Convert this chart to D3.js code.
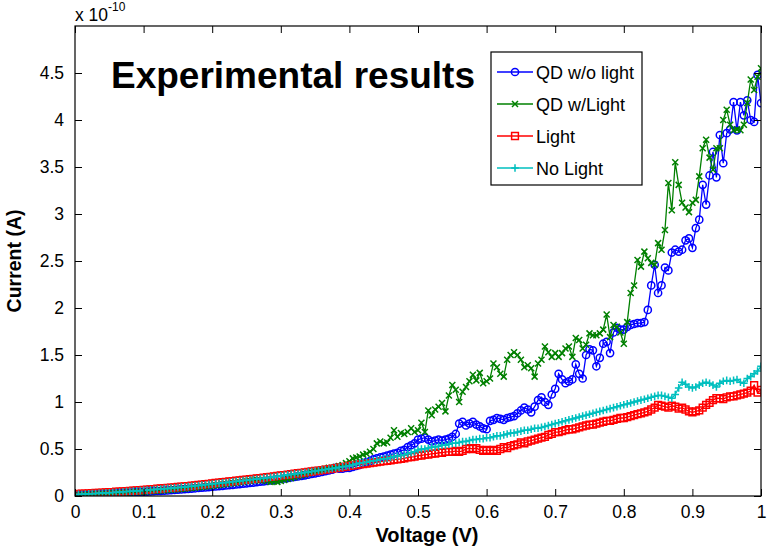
<!DOCTYPE html>
<html>
<head>
<meta charset="utf-8">
<script src="https://cdn.jsdelivr.net/npm/d3@7"></script>
<style>
  html, body { margin: 0; padding: 0; background: #fff; }
  svg { display: block; }
  text { font-family: "Liberation Sans", Arial, sans-serif; fill: #000; }
</style>
</head>
<body>
<svg id="chart" width="768" height="547"></svg>
<script>
// ---------------- DATA (current in units of 1e-10 A) ----------------
const voltageStart = 0;
const voltageStep = 0.005;

const seriesNames = ["QD w/o light", "QD w/Light", "Light", "No Light"];

const qdNoLight = [
  0.005,0.007,0.009,0.011,0.013,0.015,0.017,0.019,0.021,0.023,0.025,0.027,0.029,0.031,0.033,0.035,0.037,0.039,0.041,0.043,0.045,
  0.047,0.049,0.051,0.053,0.055,0.057,0.059,0.061,0.064,0.067,0.07,0.073,0.076,0.079,0.082,0.085,0.088,0.091,0.095,0.098,
  0.101,0.105,0.108,0.112,0.115,0.119,0.123,0.127,0.131,0.135,0.139,0.143,0.147,0.152,0.156,0.161,0.166,0.171,0.176,0.181,
  0.186,0.191,0.197,0.202,0.208,0.214,0.22,0.227,0.234,0.241,0.248,0.256,0.264,0.272,0.281,0.3,0.29,0.29,0.3,0.3,
  0.31,0.32,0.33,0.35,0.36,0.37,0.39,0.4,0.41,0.42,0.43,0.44,0.45,0.46,0.48,0.49,0.52,0.54,0.56,0.6,
  0.61,0.62,0.6,0.58,0.59,0.6,0.59,0.6,0.61,0.63,0.66,0.77,0.79,0.75,0.77,0.79,0.76,0.74,0.72,0.71,
  0.8,0.81,0.83,0.82,0.81,0.83,0.84,0.85,0.88,0.91,0.94,0.92,0.89,0.95,1.02,1.05,1.0,0.97,1.08,1.14,
  1.3,1.24,1.2,1.22,1.24,1.4,1.3,1.25,1.5,1.56,1.55,1.38,1.47,1.62,1.64,1.52,1.74,1.79,1.77,1.77,
  1.8,1.82,1.83,1.84,1.84,1.85,1.98,2.24,2.46,2.16,2.24,2.43,2.4,2.59,2.62,2.6,2.62,2.72,2.74,2.64,
  2.85,2.94,3.31,3.1,3.41,3.66,3.39,3.84,3.54,3.86,3.9,4.19,3.89,4.19,4.05,4.21,4.0,3.98,4.48,4.18
];

const qdLight = [
  0.005,0.007,0.009,0.011,0.013,0.015,0.017,0.019,0.021,0.023,0.025,0.027,0.029,0.031,0.033,0.035,0.037,0.039,0.041,0.043,0.046,
  0.048,0.05,0.053,0.055,0.058,0.06,0.063,0.066,0.069,0.072,0.075,0.078,0.082,0.085,0.089,0.093,0.097,0.101,0.105,0.11,
  0.114,0.118,0.123,0.127,0.132,0.137,0.141,0.146,0.151,0.156,0.161,0.166,0.17,0.165,0.17,0.16,0.15,0.155,0.15,0.16,
  0.17,0.18,0.19,0.2,0.21,0.22,0.23,0.24,0.25,0.26,0.27,0.28,0.29,0.3,0.3,0.31,0.32,0.33,0.35,0.37,
  0.4,0.41,0.42,0.44,0.45,0.47,0.5,0.56,0.58,0.56,0.57,0.62,0.7,0.63,0.67,0.66,0.68,0.72,0.68,0.7,
  0.78,0.68,0.91,0.86,0.92,0.95,0.99,0.9,1.07,1.18,1.13,1.0,1.11,1.16,1.22,1.29,1.23,1.31,1.2,1.22,
  1.25,1.41,1.37,1.3,1.27,1.45,1.5,1.53,1.5,1.45,1.37,1.39,1.36,1.27,1.41,1.45,1.59,1.53,1.48,1.52,
  1.48,1.52,1.57,1.59,1.48,1.68,1.66,1.57,1.61,1.73,1.71,1.71,1.73,1.77,1.93,1.69,1.82,1.8,1.74,1.62,
  1.85,2.16,2.24,2.51,2.44,2.6,2.53,2.48,2.46,2.69,2.62,2.83,3.33,3.04,3.55,3.31,3.12,3.07,3.02,3.12,
  3.15,3.4,3.7,3.79,3.6,3.47,3.7,3.7,4.0,4.11,3.95,3.89,3.9,3.89,3.95,4.18,4.43,4.32,4.46,4.55
];

const lightOnly = [
  0.02,0.022,0.024,0.026,0.028,0.03,0.032,0.034,0.036,0.038,0.04,0.042,0.045,0.047,0.05,0.052,0.055,0.057,0.06,0.062,0.065,
  0.068,0.071,0.074,0.077,0.08,0.083,0.086,0.089,0.092,0.096,0.099,0.103,0.106,0.11,0.114,0.118,0.122,0.126,0.13,0.135,
  0.139,0.143,0.147,0.151,0.155,0.159,0.163,0.167,0.171,0.175,0.179,0.183,0.187,0.191,0.195,0.2,0.204,0.209,0.214,0.219,
  0.223,0.228,0.232,0.237,0.242,0.246,0.251,0.256,0.261,0.266,0.271,0.276,0.281,0.286,0.291,0.297,0.302,0.308,0.313,0.32,
  0.325,0.33,0.336,0.34,0.345,0.35,0.356,0.36,0.366,0.37,0.375,0.38,0.386,0.39,0.395,0.4,0.41,0.415,0.42,0.43,
  0.43,0.44,0.44,0.45,0.45,0.46,0.46,0.47,0.47,0.47,0.48,0.47,0.48,0.5,0.51,0.5,0.51,0.49,0.48,0.49,
  0.48,0.49,0.48,0.5,0.52,0.51,0.53,0.54,0.55,0.57,0.56,0.58,0.59,0.6,0.61,0.62,0.63,0.65,0.66,0.68,
  0.68,0.69,0.7,0.71,0.71,0.72,0.73,0.74,0.75,0.76,0.76,0.77,0.78,0.79,0.8,0.8,0.81,0.82,0.83,0.83,
  0.84,0.85,0.86,0.87,0.88,0.89,0.9,0.92,0.94,0.97,0.96,0.95,0.94,0.96,0.95,0.93,0.94,0.92,0.9,0.89,
  0.9,0.91,0.94,0.97,0.99,1.02,1.04,1.04,1.03,1.05,1.06,1.06,1.07,1.08,1.09,1.1,1.12,1.18,1.1,1.13
];

const noLight = [
  0.015,0.017,0.019,0.021,0.023,0.025,0.027,0.029,0.031,0.033,0.035,0.037,0.04,0.042,0.045,0.047,0.05,0.052,0.055,0.057,0.06,
  0.063,0.066,0.069,0.072,0.075,0.078,0.081,0.084,0.087,0.09,0.094,0.097,0.101,0.104,0.108,0.112,0.116,0.12,0.124,0.128,
  0.132,0.136,0.14,0.144,0.148,0.152,0.156,0.16,0.164,0.168,0.172,0.177,0.181,0.186,0.19,0.195,0.2,0.205,0.21,0.215,
  0.22,0.225,0.23,0.235,0.24,0.245,0.25,0.255,0.26,0.266,0.271,0.277,0.282,0.288,0.293,0.299,0.305,0.31,0.316,0.322,
  0.33,0.34,0.35,0.355,0.36,0.37,0.375,0.38,0.39,0.395,0.4,0.41,0.42,0.425,0.43,0.44,0.45,0.46,0.47,0.49,
  0.5,0.5,0.51,0.52,0.52,0.53,0.54,0.54,0.55,0.56,0.56,0.57,0.58,0.58,0.59,0.6,0.6,0.61,0.61,0.62,
  0.62,0.63,0.64,0.64,0.65,0.66,0.67,0.67,0.68,0.69,0.7,0.7,0.71,0.72,0.72,0.73,0.74,0.75,0.76,0.77,
  0.78,0.79,0.8,0.81,0.82,0.83,0.84,0.85,0.86,0.87,0.88,0.89,0.9,0.91,0.92,0.93,0.94,0.95,0.96,0.97,
  0.98,0.99,1.0,1.01,1.02,1.03,1.04,1.05,1.06,1.07,1.07,1.06,1.05,1.04,1.08,1.15,1.21,1.19,1.16,1.15,
  1.16,1.18,1.2,1.21,1.2,1.18,1.16,1.2,1.22,1.23,1.22,1.23,1.24,1.21,1.2,1.25,1.27,1.3,1.33,1.38
];

const xTicks = [0, 0.1, 0.2, 0.3, 0.4, 0.5, 0.6, 0.7, 0.8, 0.9, 1];
const yTicks = [0, 0.5, 1, 1.5, 2, 2.5, 3, 3.5, 4, 4.5];

// ---------------- LAYOUT ----------------
const svg = d3.select("#chart");
const L = 75, R = 761, T = 26, B = 496;
const font = '"Liberation Sans", Arial, sans-serif';

const x = d3.scaleLinear().domain([0, 1]).range([L, R]);
const y = d3.scaleLinear().domain([0, 5]).range([B, T]);

const series = [
  { name: seriesNames[0], values: qdNoLight, color: "#0000ff", marker: "circle" },
  { name: seriesNames[1], values: qdLight,   color: "#008000", marker: "x" },
  { name: seriesNames[2], values: lightOnly, color: "#ff0000", marker: "square" },
  { name: seriesNames[3], values: noLight,   color: "#00bfbf", marker: "plus" }
];

function markerPath(type) {
  switch (type) {
    case "circle": {
      const r = 3.6;
      return `M${-r},0A${r},${r} 0 1,0 ${r},0A${r},${r} 0 1,0 ${-r},0Z`;
    }
    case "square": { const s = 3.4; return `M${-s},${-s}H${s}V${s}H${-s}Z`; }
    case "x": { const s = 3; return `M${-s},${-s}L${s},${s}M${-s},${s}L${s},${-s}`; }
    case "plus": { const s = 3.8; return `M${-s},0H${s}M0,${-s}V${s}`; }
  }
}

svg.append("rect").attr("x", 0).attr("y", 0).attr("width", 768).attr("height", 547).attr("fill", "#fff");

svg.append("defs").append("clipPath").attr("id", "clip")
  .append("rect").attr("x", L).attr("y", T).attr("width", R - L).attr("height", B - T);

const plot = svg.append("g").attr("clip-path", "url(#clip)");

const line = d3.line()
  .x((d, i) => x(voltageStart + i * voltageStep))
  .y(d => y(d));

series.forEach(s => {
  const g = plot.append("g");
  g.append("path")
    .attr("d", line(s.values))
    .attr("fill", "none")
    .attr("stroke", s.color)
    .attr("stroke-width", 1.3);
  g.selectAll("path.m")
    .data(s.values)
    .enter().append("path")
    .attr("class", "m")
    .attr("transform", (d, i) => `translate(${x(voltageStart + i * voltageStep)},${y(d)})`)
    .attr("d", markerPath(s.marker))
    .attr("fill", "none")
    .attr("stroke", s.color)
    .attr("stroke-width", 1.5);
});

// ---------------- AXES ----------------
const tickLen = 7;
const xAxisB = d3.axisBottom(x).tickValues(xTicks).tickSize(-tickLen).tickPadding(tickLen + 3)
  .tickFormat(d => d3.format("")(d));
const xAxisT = d3.axisTop(x).tickValues(xTicks).tickSize(-tickLen).tickFormat("");
const yAxisL = d3.axisLeft(y).tickValues(yTicks).tickSize(-tickLen).tickPadding(tickLen + 4)
  .tickFormat(d => d3.format("")(d));
const yAxisR = d3.axisRight(y).tickValues(yTicks).tickSize(-tickLen).tickFormat("");

function styleAxis(g) {
  g.select(".domain").remove();
  g.selectAll("line").attr("stroke", "#000").attr("stroke-width", 1);
  g.selectAll("text").style("font-family", font).style("font-size", "17.5px").attr("fill", "#000");
}

svg.append("g").attr("transform", `translate(0,${B})`).call(xAxisB).call(styleAxis)
  .selectAll("text").attr("dy", "0.71em");
svg.append("g").attr("transform", `translate(0,${T})`).call(xAxisT).call(styleAxis);
svg.append("g").attr("transform", `translate(${L},0)`).call(yAxisL).call(styleAxis);
svg.append("g").attr("transform", `translate(${R},0)`).call(yAxisR).call(styleAxis);

svg.append("rect").attr("x", L).attr("y", T).attr("width", R - L).attr("height", B - T)
  .attr("fill", "none").attr("stroke", "#000").attr("stroke-width", 1.2);

// exponent label
const expo = svg.append("text").attr("x", 75).attr("y", 21)
  .style("font-family", font).style("font-size", "17.5px");
expo.append("tspan").text("x 10");
expo.append("tspan").attr("dy", -10).style("font-size", "12px").text("-10");

// axis labels
svg.append("text").attr("x", (L + R) / 2 + 9).attr("y", 542).attr("text-anchor", "middle")
  .style("font-family", font).style("font-size", "20px").style("font-weight", "bold")
  .text("Voltage (V)");
svg.append("text").attr("transform", `translate(21,${(T + B) / 2}) rotate(-90)`)
  .attr("text-anchor", "middle")
  .style("font-family", font).style("font-size", "19.5px").style("font-weight", "bold")
  .text("Current (A)");

// title inside plot
svg.append("text").attr("x", 111).attr("y", 88)
  .style("font-family", font).style("font-size", "37px").style("font-weight", "bold")
  .text("Experimental results");

// ---------------- LEGEND ----------------
const lg = svg.append("g");
lg.append("rect").attr("x", 491).attr("y", 52).attr("width", 151).attr("height", 133)
  .attr("fill", "#fff").attr("stroke", "#000").attr("stroke-width", 1.2);
series.forEach((s, i) => {
  const cy = 72 + i * 32;
  lg.append("line").attr("x1", 497).attr("x2", 533).attr("y1", cy).attr("y2", cy)
    .attr("stroke", s.color).attr("stroke-width", 1.3);
  lg.append("path").attr("transform", `translate(515,${cy})`).attr("d", markerPath(s.marker))
    .attr("fill", "none").attr("stroke", s.color).attr("stroke-width", 1.5);
  lg.append("text").attr("x", 536).attr("y", cy + 6.5)
    .style("font-family", font).style("font-size", "18px").text(s.name);
});
</script>
</body>
</html>
